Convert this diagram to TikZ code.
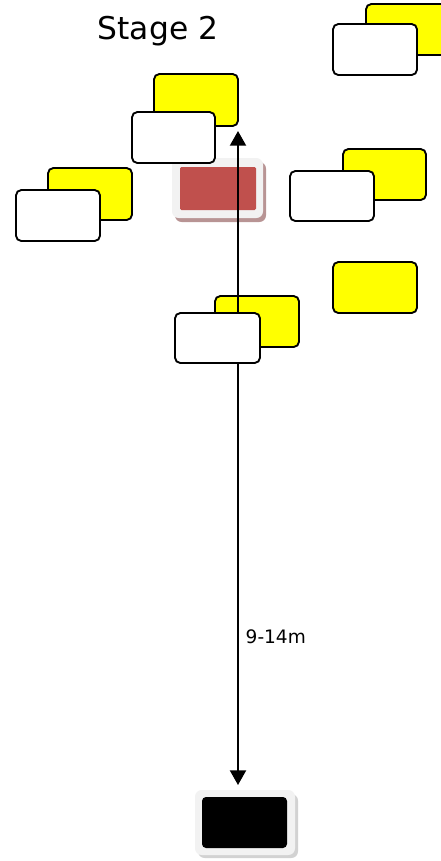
\documentclass[tikz,border=0pt]{standalone}
\usepackage{fontspec}
\setmainfont{DejaVu Sans}
\usetikzlibrary{arrows.meta}
\definecolor{playeryellow}{HTML}{FFFF00}
\definecolor{markerred}{HTML}{C0504D}
\definecolor{framegray}{HTML}{F2F2F2}
\definecolor{redshadow}{HTML}{B89494}
\definecolor{greyshadow}{HTML}{D2D2D2}
\tikzset{
  yellowbox/.style={draw=black, fill=playeryellow, line width=1.4pt, rounded corners=4pt},
  whitebox/.style={draw=black, fill=white, line width=1.4pt, rounded corners=4pt},
  framebox/.style={fill=framegray, rounded corners=5pt},
  measure/.style={line width=1.5pt, {Triangle[length=11pt,width=12pt]}-{Triangle[length=11pt,width=12pt]}}
}

\begin{document}
\begin{tikzpicture}[x=0.75pt, y=-0.75pt]
		%%%%% START %%%%%
		\useasboundingbox (0, 0) rectangle (441, 861);
		
		\node[font=\fontsize{23.5pt}{28pt}\selectfont] (title) at (158, 31) {Stage 2};
		
		% yellow players
		\draw[yellowbox] (366, 4) rectangle (450, 55);
		\draw[yellowbox] (154, 74) rectangle (238, 126);
		\draw[yellowbox] (48, 168) rectangle (132, 220);
		\draw[yellowbox] (343, 149) rectangle (426, 200);
		\draw[yellowbox] (333, 262) rectangle (417, 313);
		\draw[yellowbox] (215, 296) rectangle (299, 347);
		
		% red marker
		\fill[redshadow, rounded corners=5pt] (175, 162) rectangle (266, 222);
		\fill[framebox] (172, 158) rectangle (263, 218);
		\fill[markerred, rounded corners=1pt] (180, 167) rectangle (256, 210);
		
		% black marker
		\fill[greyshadow, rounded corners=5pt] (198, 794) rectangle (298, 858);
		\fill[framebox] (195, 790) rectangle (295, 855);
		\fill[black, rounded corners=3pt] (202, 797) rectangle (287, 848);
		
		% distance
		\coordinate (far) at (238, 131);
		\coordinate (near) at (238, 785);
		\draw[measure] (near) -- (far);
		\node[font=\fontsize{13.9pt}{16pt}\selectfont, anchor=west] (dist) at (241, 637) {9-14m};
		
		% white players
		\draw[whitebox] (333, 24) rectangle (417, 75);
		\draw[whitebox] (132, 112) rectangle (215, 163);
		\draw[whitebox] (16, 190) rectangle (100, 241);
		\draw[whitebox] (290, 171) rectangle (374, 221);
		\draw[whitebox] (175, 313) rectangle (260, 363);
		
		%%%%% END %%%%%
	\end{tikzpicture}
\end{document}
